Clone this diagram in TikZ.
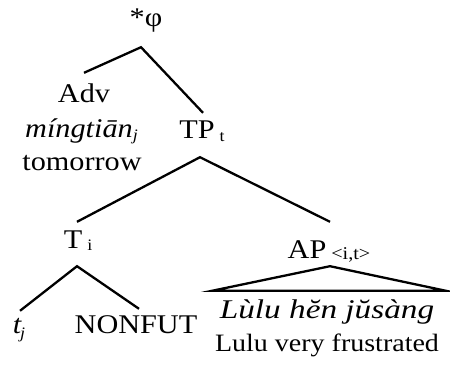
\documentclass[tikz,border=0pt]{standalone}
\usepackage{fontspec}
\setmainfont{Liberation Serif}
\newcommand{\subtxt}{\fontsize{16}{16}\selectfont}
\newcommand{\subwide}{\fontsize{18}{18}\selectfont}
\tikzset{
  lbl/.style={anchor=base, inner sep=0pt, text height=19pt, text depth=6pt,
    font=\fontsize{27}{30}\selectfont, xscale=1.12},
  phraselbl/.style={lbl, font=\fontsize{27}{30}\selectfont\itshape, xscale=1.1},
  glosslbl/.style={lbl, font=\fontsize{25}{28}\selectfont},
  branch/.style={line width=2.3pt}
}
\begin{document}
\begin{tikzpicture}[x=1pt, y=-1pt]
\useasboundingbox (0,0) rectangle (450,365);
\node[lbl] (phi) at (146,26) {*φ};
\node[lbl] (adv) at (84,102) {Adv};
\node[lbl] (advword) at (79,137) {\itshape míngtiān\rlap{\raisebox{-3pt}{\subtxt j}}};
\node[lbl] (advgloss) at (82,170) {tomorrow};
\node[lbl] (tp) at (197,138) {TP\rlap{\,\raisebox{-3pt}{\subtxt t}}};
\node[lbl] (ti) at (73,248) {T\rlap{\,\raisebox{-2pt}{\subtxt i}}};
\node[lbl] (ap) at (307,258) {AP\rlap{\,\raisebox{-1pt}{\subwide <i,t>}}};
\node[lbl] (tj) at (17,333) {\itshape t\rlap{\kern-1pt\raisebox{-5pt}{\subtxt j}}};
\node[lbl] (nonfut) at (136,333) {NONFUT};
\node[phraselbl] (phrase) at (327,318) {Lùlu hĕn jŭsàng};
\node[glosslbl] (gloss) at (327,351) {Lulu very frustrated};

\draw[branch] ([yshift=10pt]adv.north) -- ([xshift=-5pt,yshift=-15pt]phi.south) -- ([xshift=6pt,yshift=6pt]tp.north);
\draw[branch] ([xshift=4pt,yshift=7pt]ti.north) -- ([xshift=3pt,yshift=-13pt]tp.south) -- ([xshift=23pt,yshift=17pt]ap.north);
\draw[branch] ([xshift=3pt,yshift=3pt]tj.north) -- ([xshift=4pt,yshift=-12pt]ti.south) -- ([xshift=3pt,yshift=5pt]nonfut.north);
\draw[branch] ([xshift=23pt,yshift=-2pt]ap.south) -- ([xshift=119pt,yshift=8pt]phrase.north) -- ([xshift=-115pt,yshift=8pt]phrase.north) -- cycle;
\end{tikzpicture}
\end{document}
